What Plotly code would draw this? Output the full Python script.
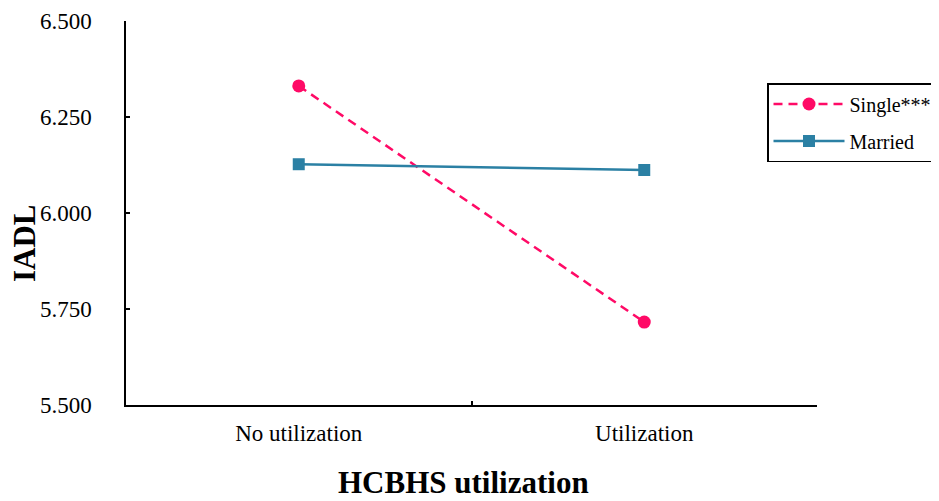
import plotly.graph_objects as go

categories = ["No utilization", "Utilization"]
single_vals = [6.331, 5.716]
married_vals = [6.127, 6.112]
y_ticks = [5.5, 5.75, 6.0, 6.25, 6.5]
y_tick_labels = ["5.500", "5.750", "6.000", "6.250", "6.500"]

FONT = "Liberation Serif, Times New Roman, serif"

L, T, PW, PH = 118, 13, 691, 384
W, H = 939, 501

fig = go.Figure()
fig.add_trace(go.Scatter(
    x=categories, y=single_vals, name="Single***", mode="lines+markers",
    legendgroup="s",
    line=dict(color="#FF0A66", width=2.5, dash="9px,6px"),
    marker=dict(symbol="circle", size=13, color="#FF0A66"),
))
fig.add_trace(go.Scatter(
    x=categories, y=married_vals, name="Married", mode="lines+markers",
    legendgroup="m",
    line=dict(color="#2B80A4", width=2.5),
    marker=dict(symbol="square", size=12, color="#2B80A4"),
))

fig.update_layout(
    width=W, height=H,
    margin=dict(l=L, r=W - L - PW, t=T, b=H - T - PH, autoexpand=False),
    paper_bgcolor="white", plot_bgcolor="white",
    font=dict(family=FONT, size=18, color="black"),
    showlegend=True,
    legend=dict(
        x=(759 - L) / PW, y=(T + PH - 75) / PH, xanchor="left", yanchor="top",
        bordercolor="black", borderwidth=1.5, bgcolor="white",
        font=dict(family=FONT, size=20, color="black"),
        itemwidth=71, traceorder="grouped", tracegroupgap=8,
    ),
    xaxis=dict(
        type="category", range=[-0.5, 1.5], tickson="boundaries",
        showline=True, linecolor="black", linewidth=1.5, automargin=False,
        ticks="inside", ticklen=4, tickcolor="black", tickwidth=1.5,
        showgrid=False, zeroline=False, ticklabelstandoff=7,
        tickfont=dict(family=FONT, size=23, color="black"),
    ),
    yaxis=dict(
        range=[5.5, 6.5], tickvals=y_ticks, ticktext=y_tick_labels,
        showline=True, linecolor="black", linewidth=1.5, automargin=False,
        ticks="inside", ticklen=4, tickcolor="black", tickwidth=1.5,
        showgrid=False, zeroline=False, ticklabelstandoff=28,
        tickfont=dict(family=FONT, size=23, color="black"),
    ),
    annotations=[
        dict(text="<b>HCBHS utilization</b>", xref="paper", yref="paper",
             x=(455 - L) / PW, y=-(474 - (T + PH)) / PH, xanchor="center", yanchor="middle",
             showarrow=False, font=dict(family=FONT, size=31, color="black")),
        dict(text="<b>IADL</b>", xref="paper", yref="paper", textangle=-90,
             x=-(L - 16) / PW, y=(T + PH - 235) / PH, xanchor="center", yanchor="middle",
             showarrow=False, font=dict(family=FONT, size=31, color="black")),
    ],
)

fig.write_html("out.html")
